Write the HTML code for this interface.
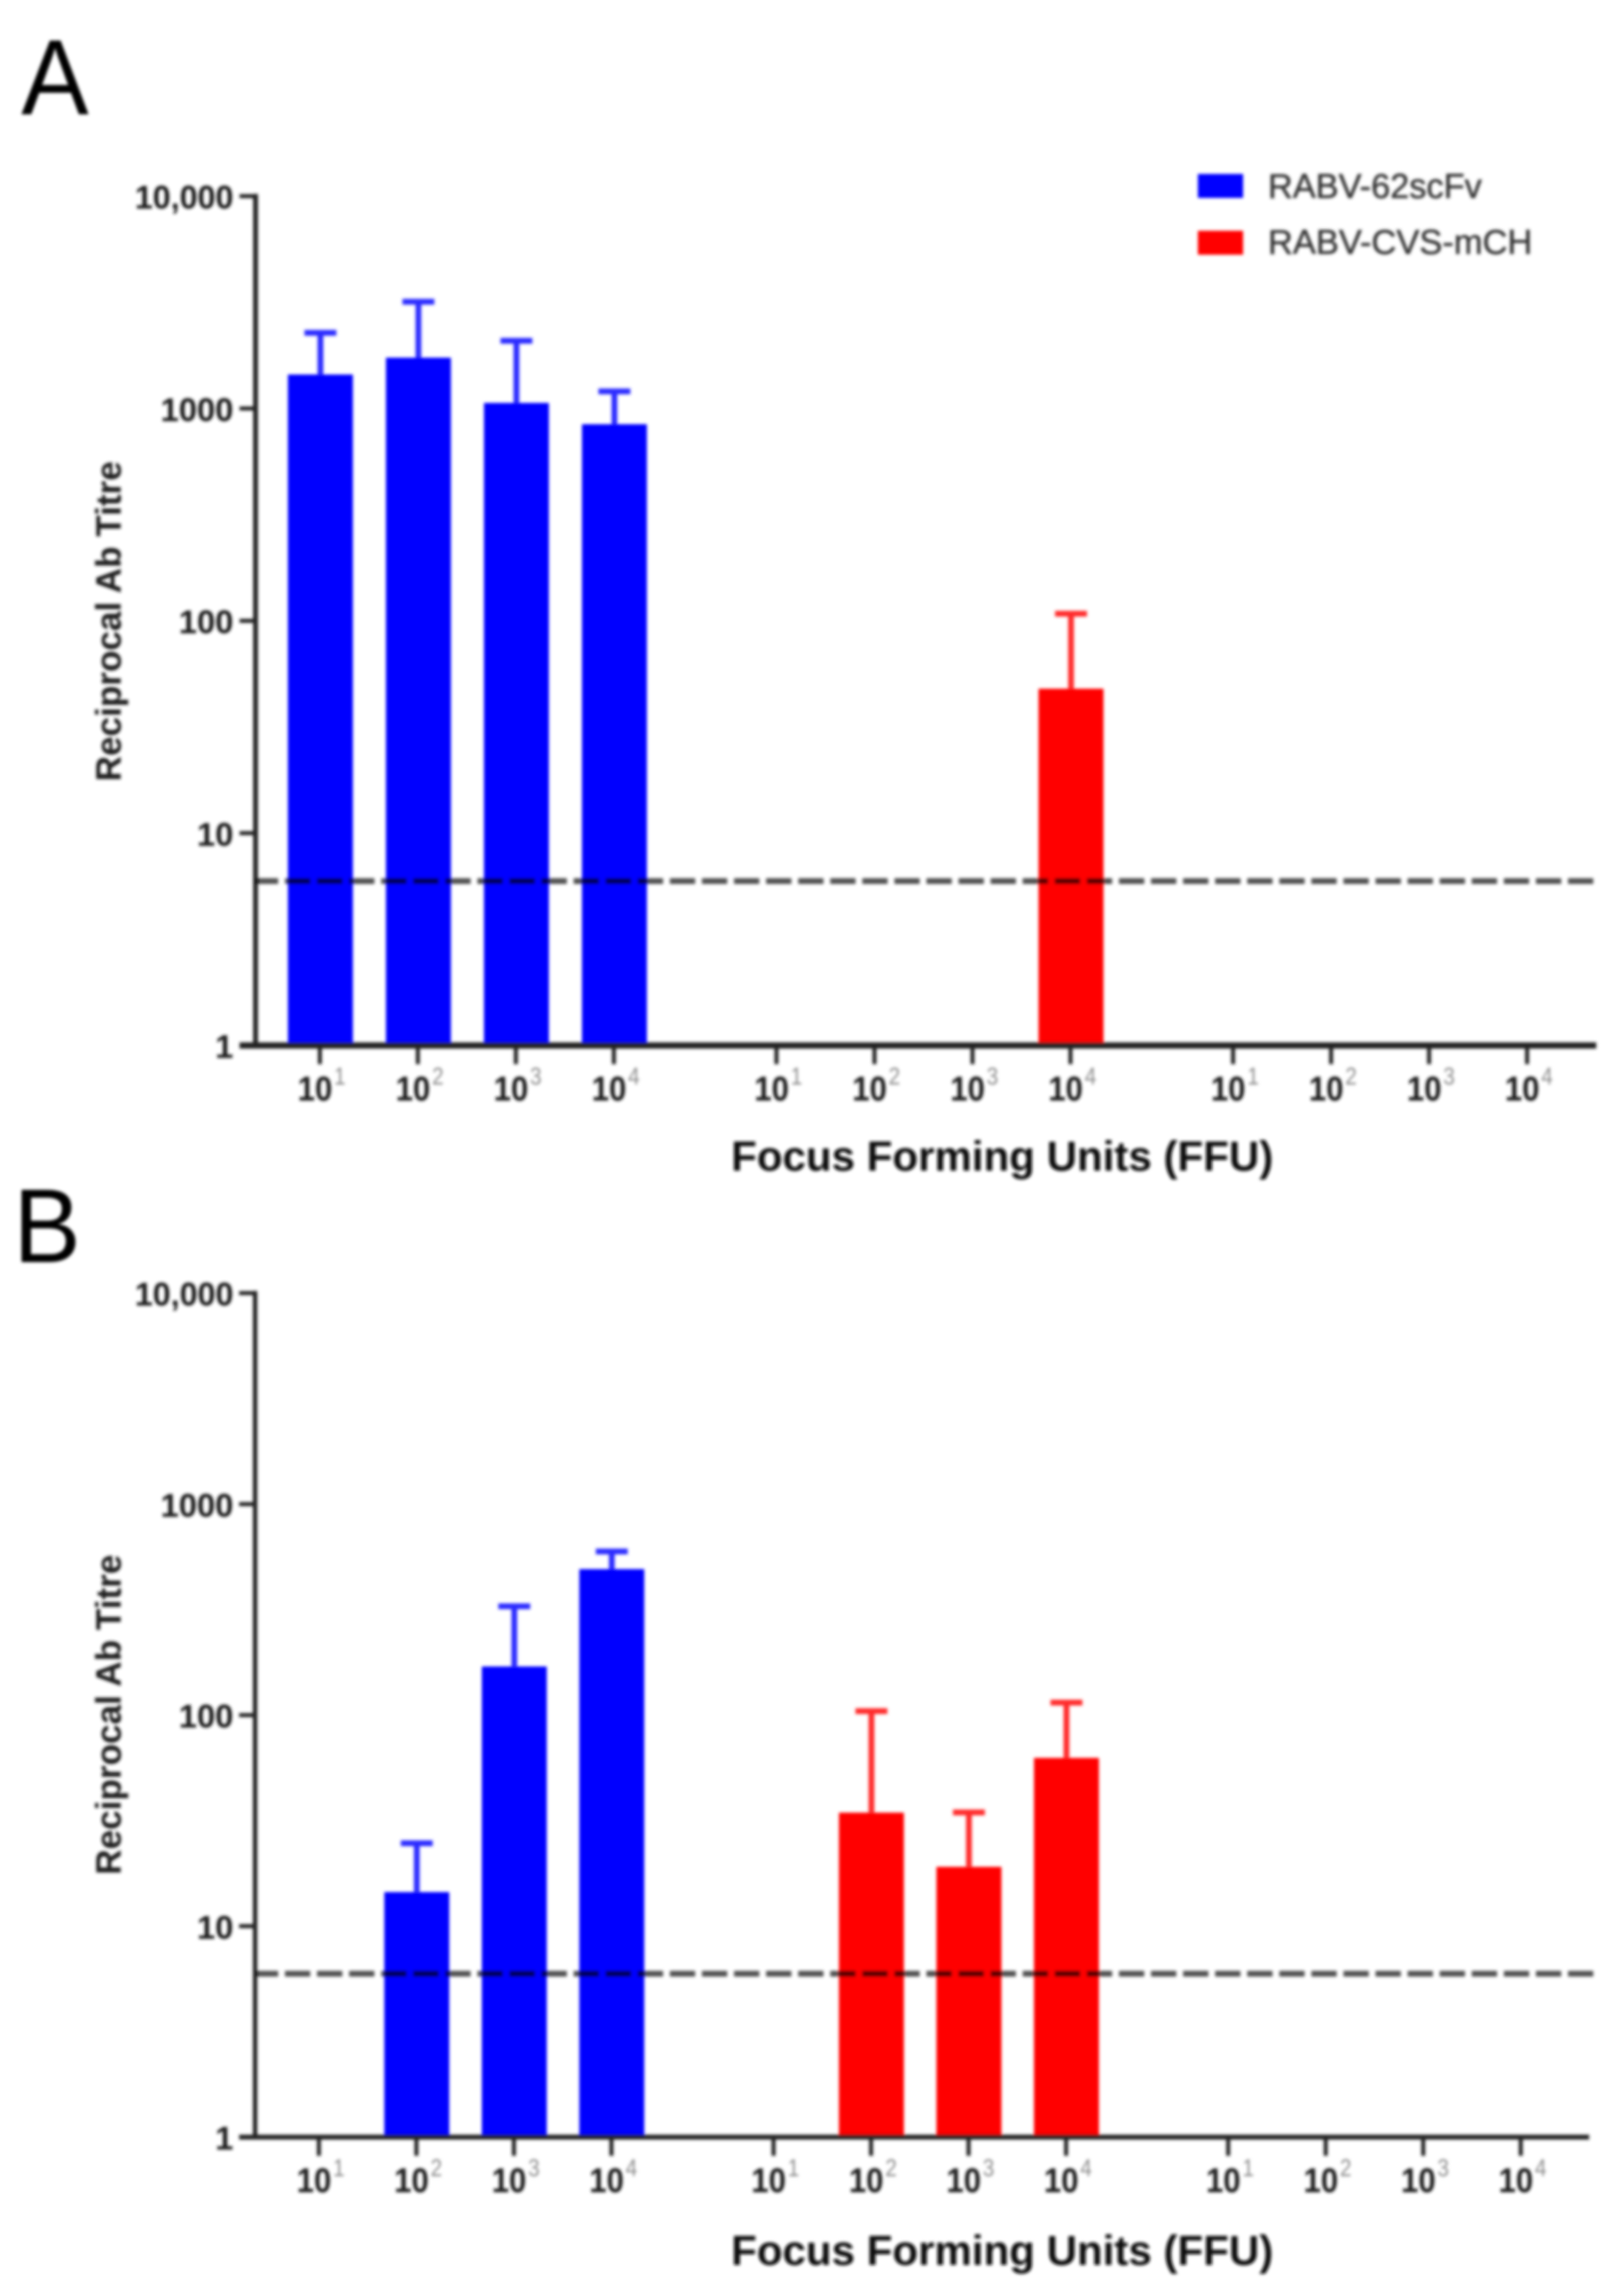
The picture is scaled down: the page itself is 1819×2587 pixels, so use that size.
<!DOCTYPE html>
<html lang="en">
<head>
<meta charset="utf-8">
<title>Reciprocal antibody titre by focus forming units</title>
<style>
html,body{margin:0;padding:0;background:#fff;}
#figure{display:block;width:1819px;height:2587px;}
text{font-family:"Liberation Sans",sans-serif;}
</style>
</head>
<body>
<svg id="figure" xmlns="http://www.w3.org/2000/svg" width="1819" height="2587" viewBox="0 0 1819 2587">
  <defs>
    <filter id="soft" filterUnits="userSpaceOnUse" x="0" y="0" width="1819" height="2587">
      <feGaussianBlur stdDeviation="1.8"/>
    </filter>
  </defs>
  <rect width="1819" height="2587" fill="#ffffff"/>
  <g id="root" filter="url(#soft)">
    <text x="24" y="129" font-size="121" fill="#000" textLength="76" lengthAdjust="spacingAndGlyphs">A</text>
    <text x="15" y="1422" font-size="118" fill="#000" textLength="76" lengthAdjust="spacingAndGlyphs">B</text>
    <rect x="1350" y="196" width="51" height="27" fill="#0000ff"/>
    <text x="1429" y="223" font-size="39" fill="#333" stroke="#333" stroke-width="0.5" textLength="241" lengthAdjust="spacingAndGlyphs">RABV-62scFv</text>
    <rect x="1350" y="260" width="51" height="27" fill="#ff0000"/>
    <text x="1429" y="286" font-size="39" fill="#333" stroke="#333" stroke-width="0.5" textLength="298" lengthAdjust="spacingAndGlyphs">RABV-CVS-mCH</text>
  </g>
</svg>
<script>
// Chart data
const yTickValues = [1, 10, 100, 1000, 10000];
const yTickLabels = ['1', '10', '100', '1000', '10,000'];
const xBaseLabels = ['10', '10', '10', '10', '10', '10', '10', '10', '10', '10', '10', '10'];
const xExponentLabels = ['1', '2', '3', '4', '1', '2', '3', '4', '1', '2', '3', '4'];
const panelABlueMeans = [1445, 1735, 1062, 843];
const panelABlueUpper = [2272, 3183, 2083, 1204];
const panelARedMeans = [null, null, null, 47.9];
const panelARedUpper = [null, null, null, 108];
const panelBBlueMeans = [null, 14.5, 170, 492];
const panelBBlueUpper = [null, 24.7, 328, 596];
const panelBRedMeans = [null, 34.5, 19.1, 62.7];
const panelBRedUpper = [null, 104.5, 34.6, 114.6];
const detectionLimit = 5.95;
const xAxisTitle = 'Focus Forming Units (FFU)';
const yAxisTitle = 'Reciprocal Ab Titre';

const SVG_NS = 'http://www.w3.org/2000/svg';
const root = document.getElementById('root');

function make(tag, attrs, text) {
  const el = document.createElementNS(SVG_NS, tag);
  for (const key in attrs) el.setAttribute(key, attrs[key]);
  if (text !== undefined) el.textContent = text;
  root.appendChild(el);
  return el;
}

function drawPanel(p) {
  const yOf = v => p.yBase - p.decade * Math.log10(v);
  const xOf = i => p.x0 + p.step * i + p.gap * Math.floor(i / 4);
  const prefix = p.id;

  // bars and error bars
  function drawSeries(name, means, upper, color, whisker, groupIndex) {
    means.forEach((mean, j) => {
      if (mean === null) return;
      const cx = xOf(groupIndex * 4 + j) + p.barShift;
      const topY = yOf(mean);
      const capY = yOf(upper[j]);
      const stem = make('line', {x1: cx, x2: cx, y1: topY, y2: capY, stroke: whisker, 'stroke-width': 6.5});
      
      
      const cap = make('line', {x1: cx - 18, x2: cx + 18, y1: capY, y2: capY, stroke: whisker, 'stroke-width': 6.5});
      
      
      const bar = make('rect', {x: cx - 36.6, y: topY, width: 73.2, height: p.yBase - topY, fill: color});
      
      
    });
  }
  drawSeries('blue', p.blueMeans, p.blueUpper, '#0000ff', '#2a2aff', 0);
  drawSeries('red', p.redMeans, p.redUpper, '#ff0000', '#ff2a2a', 1);

  // y axis
  const yAxis = make('line', {x1: p.axisX, x2: p.axisX, y1: yOf(10000) - 2.5, y2: p.yBase, stroke: '#222', 'stroke-width': p.yAxisWidth});
  
  
  yTickValues.forEach((v, i) => {
    const tick = make('line', {x1: p.axisX - 18, x2: p.axisX, y1: yOf(v), y2: yOf(v), stroke: '#222', 'stroke-width': 4.5});
    
    
    const label = make('text', {
      x: 263, y: yOf(v) + 14, 'text-anchor': 'end', 'font-size': 37, 'font-weight': 'bold', fill: '#1c1c1c',
      textLength: yTickLabels[i].length === 6 ? 111 : 20.5 * yTickLabels[i].length,
      lengthAdjust: 'spacingAndGlyphs'
    }, yTickLabels[i]);
    
    
  });

  // x axis
  const xAxis = make('line', {x1: p.axisX - 18, x2: p.xEnd, y1: p.yBase, y2: p.yBase, stroke: '#222', 'stroke-width': p.xAxisWidth});
  
  
  xBaseLabels.forEach((base, i) => {
    const cx = xOf(i);
    const tick = make('line', {x1: cx, x2: cx, y1: p.yBase, y2: p.yBase + 21, stroke: '#222', 'stroke-width': 4.5});
    
    
    const label = make('text', {
      x: cx - 25, y: p.yBase + 62, 'font-size': 39, 'font-weight': 'bold', fill: '#1c1c1c',
      textLength: 39, lengthAdjust: 'spacingAndGlyphs'
    }, base);
    
    
    const exp = make('text', {
      x: cx + 16, y: p.yBase + 44, 'font-size': 28, fill: '#8c8c8c',
      textLength: 13, lengthAdjust: 'spacingAndGlyphs'
    }, xExponentLabels[i]);
    
    
  });

  // dashed detection limit
  const limitY = yOf(detectionLimit);
  const limit = make('line', {
    x1: 288, x2: p.limitEnd, y1: limitY, y2: limitY,
    stroke: '#000', 'stroke-opacity': 0.68, 'stroke-width': 6.5,
    'stroke-dasharray': '28.5 7.65', 'stroke-dashoffset': 3
  });
  
  

  // axis titles
  const xTitle = make('text', {
    x: 824, y: p.xTitleY, 'font-size': 47, 'font-weight': 'bold', fill: '#111',
    textLength: 611, lengthAdjust: 'spacingAndGlyphs'
  }, xAxisTitle);
  
  
  const yTitle = make('text', {
    x: 0, y: 0, 'font-size': 39.6, 'font-weight': 'bold', fill: '#1c1c1c',
    'text-anchor': 'middle', transform: 'translate(136 ' + p.yTitleMid + ') rotate(-90)'
  }, yAxisTitle);
  
  
}

drawPanel({
  id: 'panel-a', yBase: 1178, decade: 239.25, x0: 360.5, step: 110.45, gap: 72.8, barShift: 0.6,
  axisX: 288, xEnd: 1799, limitEnd: 1798, yAxisWidth: 5.5, xAxisWidth: 7,
  xTitleY: 1319, yTitleMid: 700,
  blueMeans: panelABlueMeans, blueUpper: panelABlueUpper, redMeans: panelARedMeans, redUpper: panelARedUpper
});
drawPanel({
  id: 'panel-b', yBase: 2408, decade: 237.75, x0: 359.4, step: 109.9, gap: 72.8, barShift: 0.4,
  axisX: 287.5, xEnd: 1791, limitEnd: 1798, yAxisWidth: 5, xAxisWidth: 5.5,
  xTitleY: 2552, yTitleMid: 1932,
  blueMeans: panelBBlueMeans, blueUpper: panelBBlueUpper, redMeans: panelBRedMeans, redUpper: panelBRedUpper
});
</script>
</body>
</html>
